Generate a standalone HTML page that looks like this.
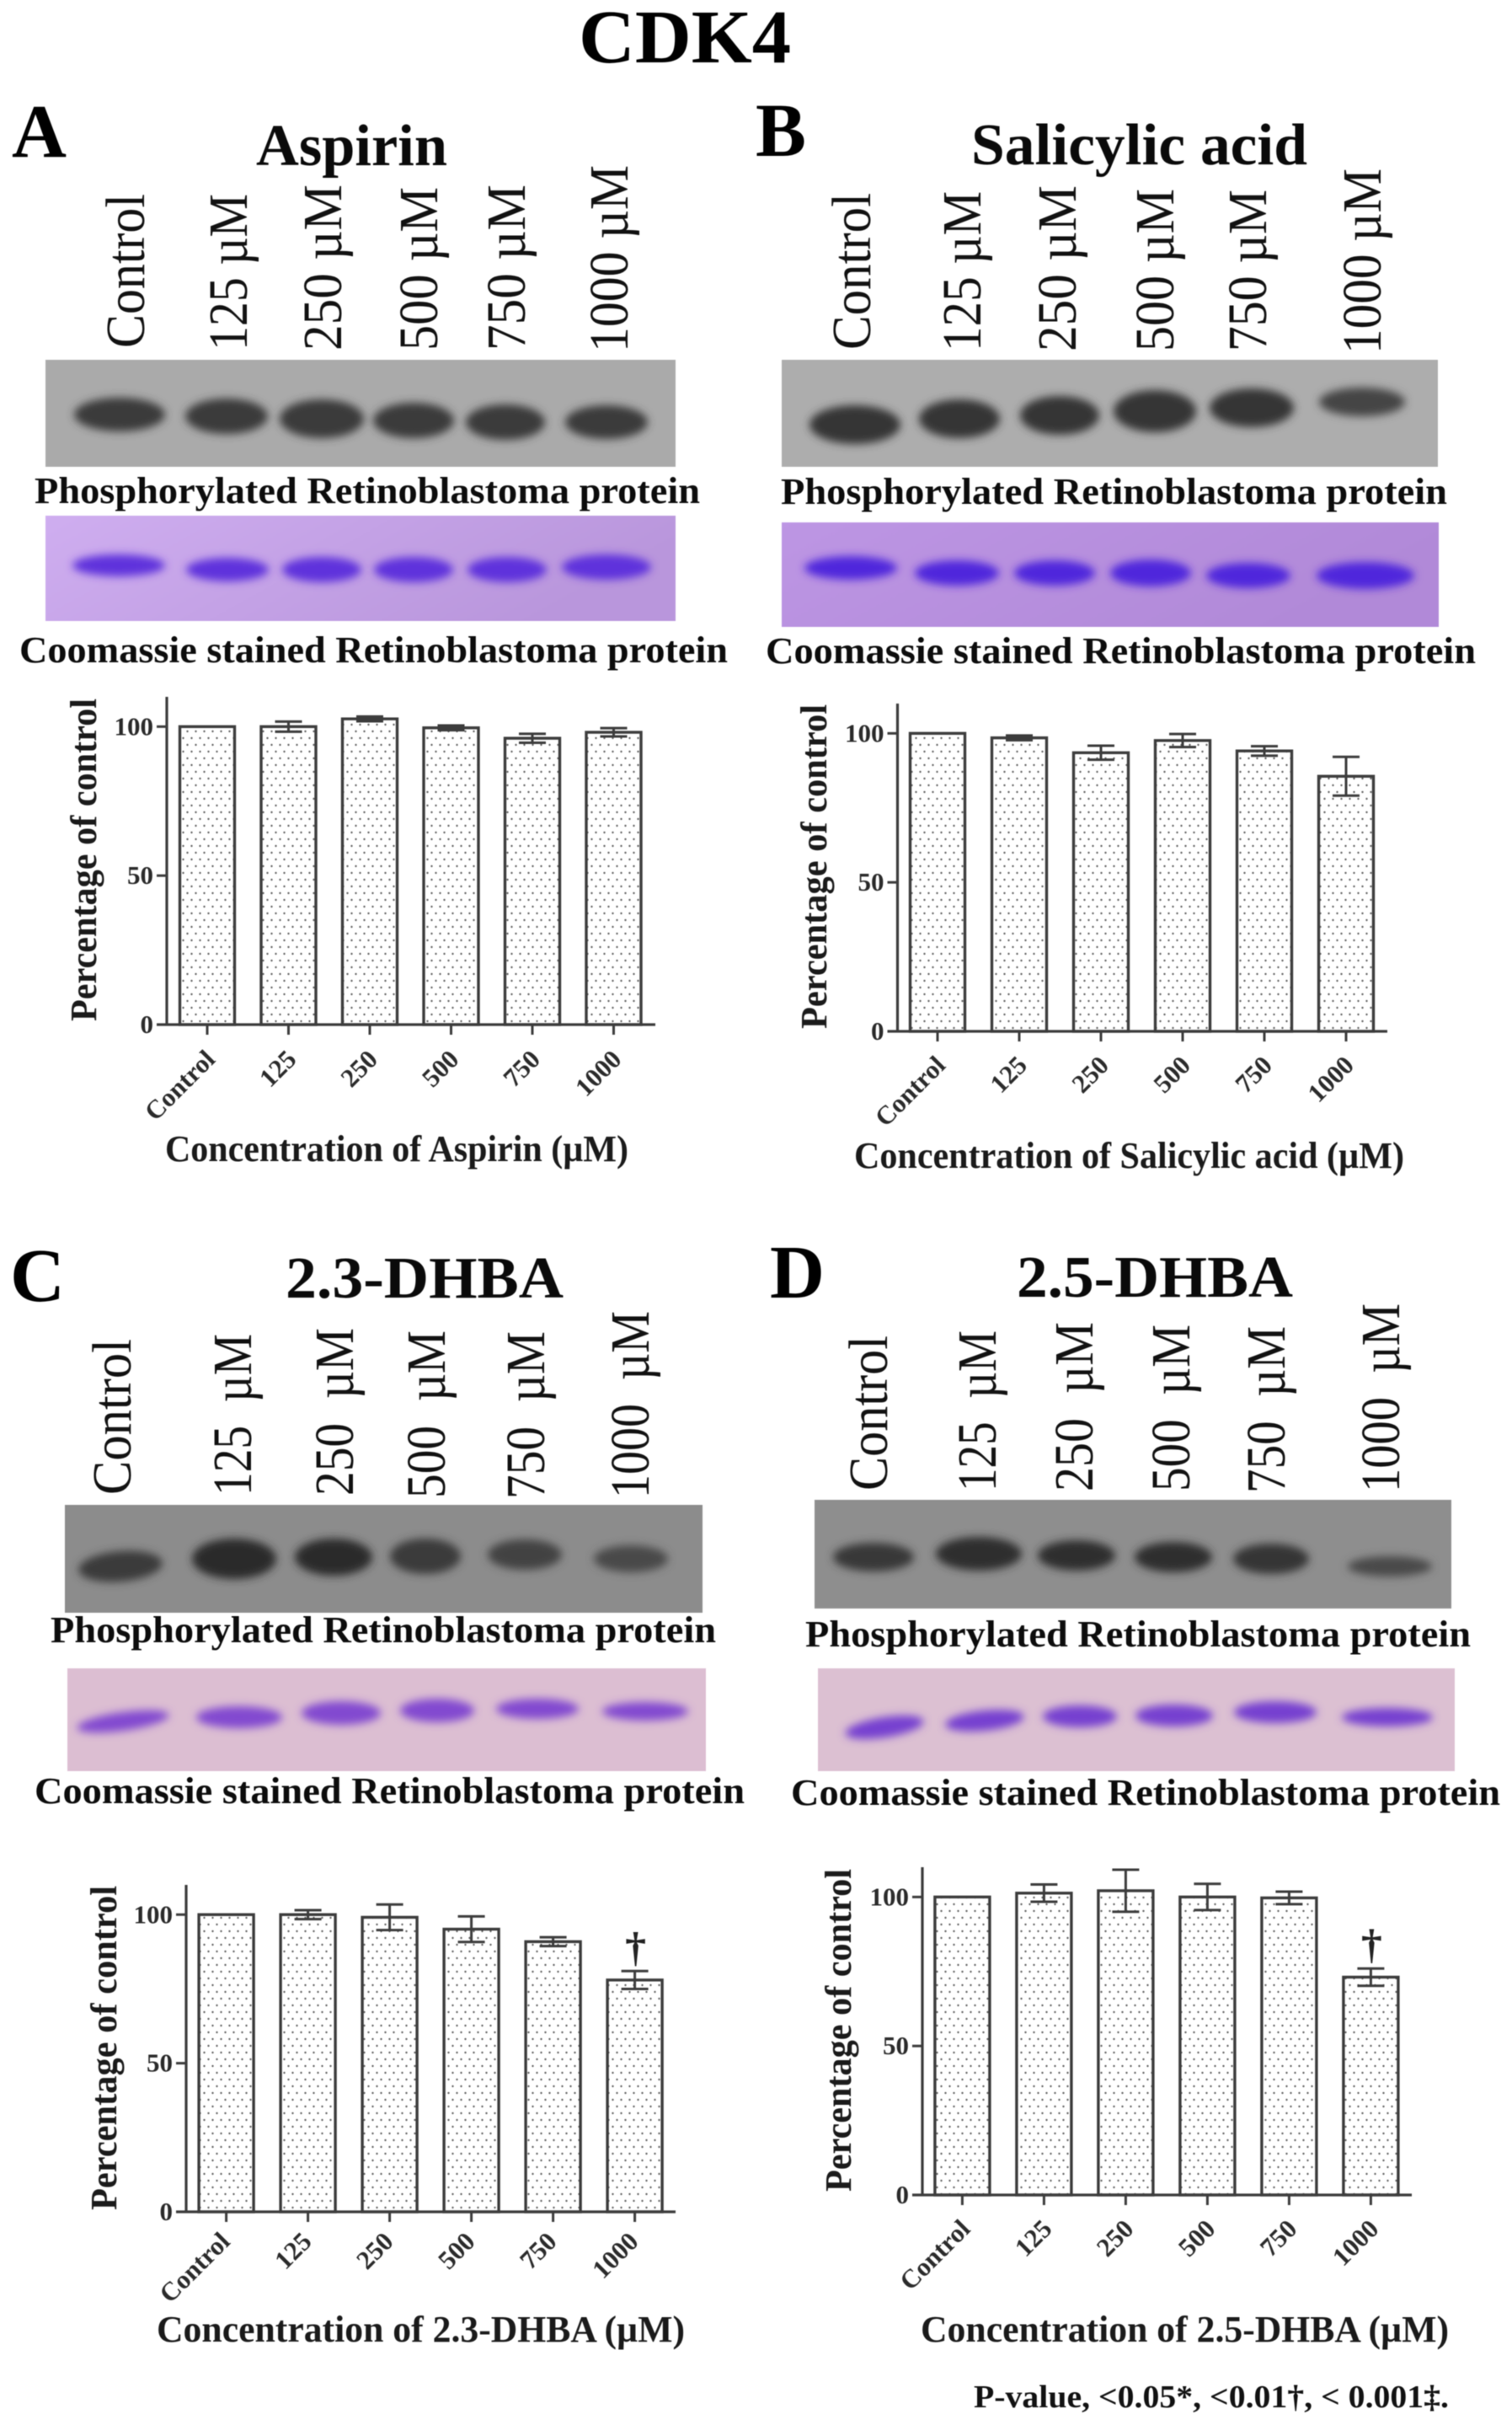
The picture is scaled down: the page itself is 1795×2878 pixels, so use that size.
<!DOCTYPE html>
<html lang="en">
<head>
<meta charset="utf-8">
<title>CDK4 Retinoblastoma phosphorylation</title>
<style>
html,body{margin:0;padding:0;background:#fff;}
svg{display:block;font-family:"Liberation Serif",serif;filter:blur(0.6px);}
.big{font-weight:700;font-size:90px;fill:#000;}
.title{font-weight:700;font-size:70px;fill:#0a0a0a;}
.lane{font-weight:400;font-size:66px;fill:#111;}
.cap{font-weight:700;font-size:44px;fill:#0c0c0c;}
.axt{font-weight:700;font-size:44px;fill:#1a1a1a;}
.tick{font-weight:700;font-size:31px;fill:#2a2a2a;}
.note{font-weight:700;font-size:38px;fill:#111;}
</style>
</head>
<body>
<svg id="figure" xmlns="http://www.w3.org/2000/svg" width="1795" height="2878" viewBox="0 0 1795 2878">
<defs>
<pattern id="dots" width="10" height="16" patternUnits="userSpaceOnUse">
<rect width="10" height="16" fill="#fff"/>
<circle cx="2.5" cy="4" r="1.2" fill="#666"/>
<circle cx="7.5" cy="12" r="1.2" fill="#666"/>
</pattern>
<filter id="blotBlur" x="-20%" y="-150%" width="140%" height="400%"><feGaussianBlur stdDeviation="5"/></filter>
<filter id="coomBlur" x="-20%" y="-200%" width="140%" height="500%"><feGaussianBlur stdDeviation="5"/></filter>
<linearGradient id="coomA" x1="0" x2="1" y1="0" y2="0.3"><stop offset="0" stop-color="#cfaef0"/><stop offset="1" stop-color="#b996dc"/></linearGradient>
<linearGradient id="coomB" x1="0" x2="1" y1="0" y2="0.3"><stop offset="0" stop-color="#bd96e4"/><stop offset="1" stop-color="#b189d8"/></linearGradient>
</defs>
<rect width="1795" height="2878" fill="#fff"/>

<text class="big" x="687" y="74" textLength="252" lengthAdjust="spacingAndGlyphs">CDK4</text>

<!-- PANEL A -->
<g>
<text class="big" x="14" y="186">A</text>
<text class="title" x="304" y="196" textLength="227" lengthAdjust="spacingAndGlyphs">Aspirin</text>
<g>
<text class="lane" transform="translate(171 413) rotate(-90)" textLength="183" lengthAdjust="spacingAndGlyphs">Control</text>
<text class="lane" transform="translate(293 416) rotate(-90)" textLength="186" lengthAdjust="spacingAndGlyphs">125 µM</text>
<text class="lane" transform="translate(405 416) rotate(-90)" textLength="197" lengthAdjust="spacingAndGlyphs">250 µM</text>
<text class="lane" transform="translate(519 416) rotate(-90)" textLength="194" lengthAdjust="spacingAndGlyphs">500 µM</text>
<text class="lane" transform="translate(623 416) rotate(-90)" textLength="197" lengthAdjust="spacingAndGlyphs">750 µM</text>
<text class="lane" transform="translate(745 418) rotate(-90)" textLength="222" lengthAdjust="spacingAndGlyphs">1000 µM</text>
</g>
<rect x="54" y="427" width="748" height="127" fill="#aaaaaa"/>
<g fill="#3a3a3a" filter="url(#blotBlur)">
<ellipse cx="142" cy="492" rx="54" ry="20"/>
<ellipse cx="269" cy="494" rx="49" ry="21"/>
<ellipse cx="382" cy="497" rx="50" ry="23"/>
<ellipse cx="491" cy="499" rx="48" ry="21"/>
<ellipse cx="600" cy="501" rx="47" ry="21"/>
<ellipse cx="720" cy="501" rx="49" ry="20"/>
</g>
<text class="cap" x="41" y="597" textLength="790" lengthAdjust="spacingAndGlyphs">Phosphorylated Retinoblastoma protein</text>
<rect x="54" y="612" width="748" height="125" fill="url(#coomA)"/>
<g fill="#5f32dc" filter="url(#coomBlur)">
<ellipse cx="141" cy="671" rx="55" ry="13"/>
<ellipse cx="270" cy="676" rx="49" ry="14"/>
<ellipse cx="382" cy="676" rx="47" ry="15"/>
<ellipse cx="491" cy="676" rx="47" ry="15"/>
<ellipse cx="602" cy="676" rx="47" ry="15"/>
<ellipse cx="720" cy="673" rx="53" ry="15"/>
</g>
<text class="cap" x="23" y="786" textLength="841" lengthAdjust="spacingAndGlyphs">Coomassie stained Retinoblastoma protein</text>
<g id="chartA"></g>
<text class="axt" transform="translate(114 1212) rotate(-90)" textLength="383" lengthAdjust="spacingAndGlyphs">Percentage of control</text>
<text class="axt" x="196" y="1378" textLength="550" lengthAdjust="spacingAndGlyphs">Concentration of Aspirin (µM)</text>
</g>

<!-- PANEL B -->
<g>
<text class="big" x="897" y="185">B</text>
<text class="title" x="1153" y="195" textLength="399" lengthAdjust="spacingAndGlyphs">Salicylic acid</text>
<g>
<text class="lane" transform="translate(1033 415) rotate(-90)" textLength="186" lengthAdjust="spacingAndGlyphs">Control</text>
<text class="lane" transform="translate(1164 417) rotate(-90)" textLength="190" lengthAdjust="spacingAndGlyphs">125 µM</text>
<text class="lane" transform="translate(1277 417) rotate(-90)" textLength="197" lengthAdjust="spacingAndGlyphs">250 µM</text>
<text class="lane" transform="translate(1393 417) rotate(-90)" textLength="193" lengthAdjust="spacingAndGlyphs">500 µM</text>
<text class="lane" transform="translate(1503 417) rotate(-90)" textLength="192" lengthAdjust="spacingAndGlyphs">750 µM</text>
<text class="lane" transform="translate(1639 420) rotate(-90)" textLength="220" lengthAdjust="spacingAndGlyphs">1000 µM</text>
</g>
<rect x="928" y="427" width="779" height="127" fill="#adadad"/>
<g fill="#363636" filter="url(#blotBlur)">
<ellipse cx="1015" cy="504" rx="54" ry="23"/>
<ellipse cx="1139" cy="497" rx="48" ry="23"/>
<ellipse cx="1258" cy="493" rx="47" ry="23"/>
<ellipse cx="1371" cy="488" rx="49" ry="25"/>
<ellipse cx="1486" cy="484" rx="50" ry="23"/>
<ellipse cx="1617" cy="477" rx="51" ry="17" fill="#444"/>
</g>
<text class="cap" x="927" y="598" textLength="791" lengthAdjust="spacingAndGlyphs">Phosphorylated Retinoblastoma protein</text>
<rect x="928" y="620" width="780" height="124" fill="url(#coomB)"/>
<g fill="#5026dc" filter="url(#coomBlur)">
<ellipse cx="1010" cy="674" rx="55" ry="14"/>
<ellipse cx="1136" cy="680" rx="50" ry="15"/>
<ellipse cx="1252" cy="680" rx="48" ry="15"/>
<ellipse cx="1366" cy="680" rx="48" ry="16"/>
<ellipse cx="1482" cy="683" rx="50" ry="15"/>
<ellipse cx="1621" cy="683" rx="58" ry="16"/>
</g>
<text class="cap" x="909" y="787" textLength="843" lengthAdjust="spacingAndGlyphs">Coomassie stained Retinoblastoma protein</text>
<g id="chartB"></g>
<text class="axt" transform="translate(981 1221) rotate(-90)" textLength="385" lengthAdjust="spacingAndGlyphs">Percentage of control</text>
<text class="axt" x="1014" y="1386" textLength="653" lengthAdjust="spacingAndGlyphs">Concentration of Salicylic acid (µM)</text>
</g>

<!-- PANEL C -->
<g>
<text class="big" x="12" y="1544">C</text>
<text class="title" x="339" y="1540" textLength="330" lengthAdjust="spacingAndGlyphs">2.3-DHBA</text>
<g>
<text class="lane" transform="translate(155 1774) rotate(-90)" textLength="185" lengthAdjust="spacingAndGlyphs">Control</text>
<text class="lane" transform="translate(298 1775) rotate(-90)" textLength="192" lengthAdjust="spacingAndGlyphs">125&#160;&#160;µM</text>
<text class="lane" transform="translate(419 1775) rotate(-90)" textLength="199" lengthAdjust="spacingAndGlyphs">250&#160;&#160;µM</text>
<text class="lane" transform="translate(528 1778) rotate(-90)" textLength="199" lengthAdjust="spacingAndGlyphs">500&#160;&#160;µM</text>
<text class="lane" transform="translate(646 1779) rotate(-90)" textLength="199" lengthAdjust="spacingAndGlyphs">750&#160;&#160;µM</text>
<text class="lane" transform="translate(770 1778) rotate(-90)" textLength="222" lengthAdjust="spacingAndGlyphs">1000&#160;&#160;µM</text>
</g>
<rect x="77" y="1786" width="757" height="128" fill="#8c8c8c"/>
<g fill="#2c2c2c" filter="url(#blotBlur)">
<ellipse cx="143" cy="1859" rx="50" ry="18" transform="rotate(-5 143 1859)" fill="#3a3a3a"/>
<ellipse cx="278" cy="1850" rx="50" ry="24"/>
<ellipse cx="396" cy="1848" rx="46" ry="22"/>
<ellipse cx="505" cy="1847" rx="42" ry="21" fill="#3a3a3a"/>
<ellipse cx="623" cy="1845" rx="44" ry="18" fill="#424242"/>
<ellipse cx="749" cy="1850" rx="44" ry="16" fill="#4a4a4a"/>
</g>
<text class="cap" x="60" y="1949" textLength="790" lengthAdjust="spacingAndGlyphs">Phosphorylated Retinoblastoma protein</text>
<rect x="80" y="1980" width="758" height="122" fill="#dcbed2"/>
<g fill="#8248d0" filter="url(#coomBlur)">
<ellipse cx="146" cy="2043" rx="55" ry="11" transform="rotate(-8 146 2043)"/>
<ellipse cx="284" cy="2038" rx="51" ry="13"/>
<ellipse cx="405" cy="2033" rx="47" ry="14"/>
<ellipse cx="519" cy="2030" rx="44" ry="14"/>
<ellipse cx="638" cy="2028" rx="49" ry="12"/>
<ellipse cx="766" cy="2031" rx="51" ry="11"/>
</g>
<text class="cap" x="41" y="2140" textLength="843" lengthAdjust="spacingAndGlyphs">Coomassie stained Retinoblastoma protein</text>
<g id="chartC"></g>
<text class="axt" transform="translate(138 2623) rotate(-90)" textLength="385" lengthAdjust="spacingAndGlyphs">Percentage of control</text>
<text class="axt" x="186" y="2779" textLength="627" lengthAdjust="spacingAndGlyphs">Concentration of 2.3-DHBA (µM)</text>
</g>

<!-- PANEL D -->
<g>
<text class="big" x="914" y="1540">D</text>
<text class="title" x="1207" y="1539" textLength="328" lengthAdjust="spacingAndGlyphs">2.5-DHBA</text>
<g>
<text class="lane" transform="translate(1053 1769) rotate(-90)" textLength="184" lengthAdjust="spacingAndGlyphs">Control</text>
<text class="lane" transform="translate(1182 1770) rotate(-90)" textLength="191" lengthAdjust="spacingAndGlyphs">125&#160;&#160;µM</text>
<text class="lane" transform="translate(1297 1770) rotate(-90)" textLength="201" lengthAdjust="spacingAndGlyphs">250&#160;&#160;µM</text>
<text class="lane" transform="translate(1412 1770) rotate(-90)" textLength="198" lengthAdjust="spacingAndGlyphs">500&#160;&#160;µM</text>
<text class="lane" transform="translate(1525 1772) rotate(-90)" textLength="198" lengthAdjust="spacingAndGlyphs">750&#160;&#160;µM</text>
<text class="lane" transform="translate(1661 1771) rotate(-90)" textLength="224" lengthAdjust="spacingAndGlyphs">1000&#160;&#160;µM</text>
</g>
<rect x="967" y="1780" width="756" height="129" fill="#8e8e8e"/>
<g fill="#2e2e2e" filter="url(#blotBlur)">
<ellipse cx="1037" cy="1848" rx="48" ry="17" fill="#383838"/>
<ellipse cx="1162" cy="1844" rx="51" ry="20"/>
<ellipse cx="1278" cy="1846" rx="46" ry="18"/>
<ellipse cx="1393" cy="1848" rx="46" ry="18"/>
<ellipse cx="1509" cy="1850" rx="45" ry="18" fill="#363636"/>
<ellipse cx="1650" cy="1859" rx="50" ry="12" fill="#4a4a4a"/>
</g>
<text class="cap" x="956" y="1954" textLength="790" lengthAdjust="spacingAndGlyphs">Phosphorylated Retinoblastoma protein</text>
<rect x="971" y="1980" width="756" height="122" fill="#dcc0d2"/>
<g fill="#7640d0" filter="url(#coomBlur)">
<ellipse cx="1050" cy="2050" rx="47" ry="12" transform="rotate(-9 1050 2050)"/>
<ellipse cx="1169" cy="2042" rx="47" ry="12" transform="rotate(-6 1169 2042)"/>
<ellipse cx="1282" cy="2037" rx="44" ry="13"/>
<ellipse cx="1394" cy="2036" rx="46" ry="13"/>
<ellipse cx="1514" cy="2032" rx="49" ry="13"/>
<ellipse cx="1647" cy="2038" rx="54" ry="11"/>
</g>
<text class="cap" x="939" y="2142" textLength="842" lengthAdjust="spacingAndGlyphs">Coomassie stained Retinoblastoma protein</text>
<g id="chartD"></g>
<text class="axt" transform="translate(1010 2601) rotate(-90)" textLength="383" lengthAdjust="spacingAndGlyphs">Percentage of control</text>
<text class="axt" x="1093" y="2779" textLength="627" lengthAdjust="spacingAndGlyphs">Concentration of 2.5-DHBA (µM)</text>
</g>

<text class="note" x="1156" y="2857" textLength="564" lengthAdjust="spacingAndGlyphs">P-value, &lt;0.05*, &lt;0.01†, &lt; 0.001‡.</text>
</svg>

<script>
const categories = ['Control', '125', '250', '500', '750', '1000'];
const yTickLabels = [0, 50, 100];
const aspirinValues = [100, 100, 102.6, 99.6, 96.1, 98.1];
const aspirinErrors = [0, 1.7, 0.8, 0.8, 1.5, 1.4];
const aspirinMarks = ['', '', '', '', '', ''];
const salicylicValues = [100, 98.5, 93.5, 97.6, 94.1, 85.6];
const salicylicErrors = [0, 0.8, 2.35, 2.2, 1.6, 6.5];
const salicylicMarks = ['', '', '', '', '', ''];
const dhba23Values = [100, 100, 99.1, 95.1, 90.9, 78];
const dhba23Errors = [0, 1.5, 4.3, 4.3, 1.5, 3];
const dhba23Marks = ['', '', '', '', '', '†'];
const dhba25Values = [100, 101.3, 102.1, 100, 99.7, 73.1];
const dhba25Errors = [0, 2.9, 7.05, 4.4, 2.1, 2.9];
const dhba25Marks = ['', '', '', '', '', '†'];
const yDomainMax = 110;

const SVGNS = 'http://www.w3.org/2000/svg';
function make(tag, parent, attrs) {
  const el = document.createElementNS(SVGNS, tag);
  for (const k in attrs) el.setAttribute(k, attrs[k]);
  parent.appendChild(el);
  return el;
}

function drawChart(id, frame, values, errors, marks) {
  const root = document.getElementById(id);
  const yScale = function (v) { return frame.yZero - v * (frame.yZero - frame.yTop) / yDomainMax; };
  const xScale = function (i) { return frame.xFirst + i * frame.step; };
  const barW = 65;
  const capW = 32;
  const ink = '#3c3c3c';

  categories.forEach(function (cat, i) {
    const cx = xScale(i);
    const top = yScale(values[i]);
    const bar = make('rect', root, { x: cx - barW / 2, y: top, width: barW, height: frame.yZero - top, fill: 'url(#dots)', stroke: ink, 'stroke-width': 3.4 });
    
    

    if (errors[i] > 0) {
      const hi = yScale(values[i] + errors[i]);
      const lo = yScale(values[i] - errors[i]);
      const err = make('path', root, { d: 'M' + (cx - capW / 2) + ' ' + hi + 'H' + (cx + capW / 2) + 'M' + cx + ' ' + hi + 'V' + lo + 'M' + (cx - capW / 2) + ' ' + lo + 'H' + (cx + capW / 2), fill: 'none', stroke: ink, 'stroke-width': 3 });
      
      
    }

    if (marks[i]) {
      const dag = make('text', root, { x: cx + 1, y: yScale(values[i] + errors[i]) - 12, 'text-anchor': 'middle', 'font-size': 50, 'font-weight': 700, fill: '#222' });
      dag.textContent = marks[i];
      
      
    }

    const tick = make('line', root, { x1: cx, x2: cx, y1: frame.yZero, y2: frame.yZero + 12, stroke: ink, 'stroke-width': 3 });
    
    

    const lab = make('text', root, { class: 'tick', 'text-anchor': 'end', transform: 'translate(' + (cx + frame.labelDx) + ' ' + (frame.yZero + frame.labelDy) + ') rotate(-45)' });
    lab.textContent = cat;
    
    
  });

  const yAxis = make('line', root, { x1: frame.xAxis, x2: frame.xAxis, y1: frame.yTop, y2: frame.yZero, stroke: ink, 'stroke-width': 3.2 });
  
  

  const xAxis = make('line', root, { x1: frame.xAxis - 12, x2: frame.xRight, y1: frame.yZero, y2: frame.yZero, stroke: ink, 'stroke-width': 3.2 });
  
  

  yTickLabels.forEach(function (t) {
    const y = yScale(t);
    const tk = make('line', root, { x1: frame.xAxis - 12, x2: frame.xAxis, y1: y, y2: y, stroke: ink, 'stroke-width': 3 });
    
    
    const lab = make('text', root, { class: 'tick', x: frame.xAxis - 16, y: y + 10, 'text-anchor': 'end' });
    lab.textContent = t;
    
    
  });
}

drawChart('chartA', { xAxis: 198, xRight: 778, yTop: 827, yZero: 1216, xFirst: 246, step: 96.5, labelDx: 11, labelDy: 43 }, aspirinValues, aspirinErrors, aspirinMarks);
drawChart('chartB', { xAxis: 1065.5, xRight: 1647, yTop: 835, yZero: 1224, xFirst: 1113, step: 97, labelDx: 11, labelDy: 42 }, salicylicValues, salicylicErrors, salicylicMarks);
drawChart('chartC', { xAxis: 221, xRight: 802, yTop: 2237, yZero: 2625, xFirst: 268.6, step: 97, labelDx: 6, labelDy: 37 }, dhba23Values, dhba23Errors, dhba23Marks);
drawChart('chartD', { xAxis: 1095, xRight: 1676, yTop: 2216, yZero: 2605, xFirst: 1142.4, step: 97, labelDx: 11, labelDy: 42 }, dhba25Values, dhba25Errors, dhba25Marks);
</script>
</body>
</html>
